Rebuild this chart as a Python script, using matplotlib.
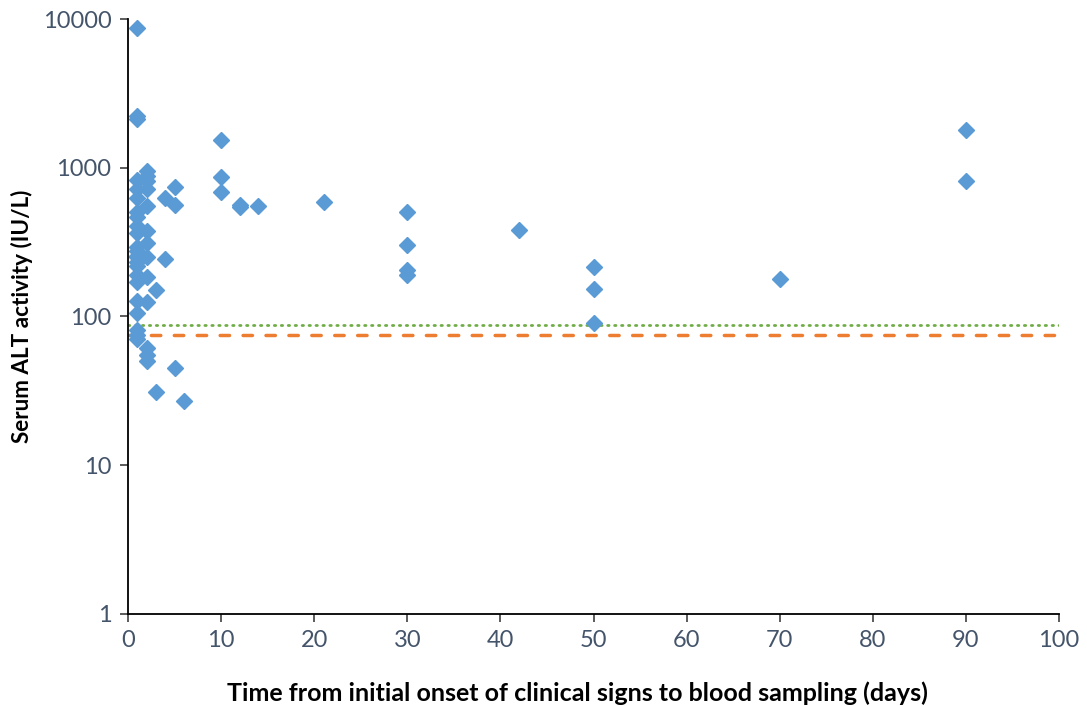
import numpy as np
import matplotlib
matplotlib.use("Agg")
import matplotlib.pyplot as plt
from matplotlib.ticker import FixedLocator, FixedFormatter, NullLocator

# Days from onset of clinical signs to blood sampling, and serum ALT (IU/L)
days = [
    1, 1, 1, 1, 1, 1, 1, 1, 1, 1, 1, 1, 1, 1, 1, 1, 1, 1, 1, 1, 1, 1, 1,
    2, 2, 2, 2, 2, 2, 2, 2, 2, 2, 2, 2, 2,
    3, 3,
    4, 4,
    5, 5, 5,
    6,
    10, 10, 10,
    12, 12,
    14,
    21,
    30, 30, 30, 30,
    42,
    50, 50, 50,
    70,
    90, 90,
]
alt = [
    8800, 2250, 2150, 834, 718, 628, 509, 471, 408, 365, 296, 274, 254, 234,
    191, 172, 127, 105, 81, 75, 71, 250, 220,
    949, 887, 718, 551, 374, 312, 250, 184, 126, 61, 55, 50, 820,
    151, 31,
    628, 244,
    745, 566, 45,
    27,
    1550, 870, 689,
    566, 545,
    557,
    590,
    506, 301, 207, 191,
    380,
    215, 154, 90,
    179,
    1810, 821,
]

# Reference lines (IU/L)
ref_upper = 88
ref_lower = 75

x_ticks = list(range(0, 101, 10))
y_ticks = [1, 10, 100, 1000, 10000]
y_labels = ["1", "10", "100", "1000", "10000"]

plt.rcParams["font.family"] = ["Lato", "DejaVu Sans"]

fig = plt.figure(figsize=(10.87, 7.06), dpi=100)
ax = fig.add_axes([0.1178, 0.131, 0.8564, 0.8414])

ax.plot([0, 100], [ref_upper, ref_upper], color="#70AD47", lw=2,
        linestyle=(0, (0.5, 2.0)), dash_capstyle="round", zorder=2)
ax.plot([0, 100], [ref_lower, ref_lower], color="#ED7D31", lw=2.5,
        linestyle=(0, (2.7, 3.9)), dash_capstyle="round", zorder=2)

ax.plot(days, alt, linestyle="none", marker="D", markersize=8,
        color="#5B9BD5", markeredgecolor="#5B9BD5", zorder=3)

ax.set_yscale("log")
ax.set_xlim(0, 100)
ax.set_ylim(1, 10000)
ax.yaxis.set_major_locator(FixedLocator(y_ticks))
ax.yaxis.set_major_formatter(FixedFormatter(y_labels))
ax.yaxis.set_minor_locator(NullLocator())
ax.set_xticks(x_ticks)

for s in ["top", "right"]:
    ax.spines[s].set_visible(False)
for s in ["left", "bottom"]:
    ax.spines[s].set_color("black")
    ax.spines[s].set_linewidth(1.3)

ax.tick_params(axis="both", direction="out", length=6, width=1.2,
               color="#404040", labelcolor="#44546A", labelsize=17, pad=6)

ax.set_xlabel("Time from initial onset of clinical signs to blood sampling (days)",
              fontsize=18, fontweight="bold")
ax.xaxis.set_label_coords(0.483, -0.115)
ax.set_ylabel("Serum ALT activity (IU/L)", fontsize=16.2, fontweight="bold",
              labelpad=7)

fig.savefig("out.png", dpi=100)
